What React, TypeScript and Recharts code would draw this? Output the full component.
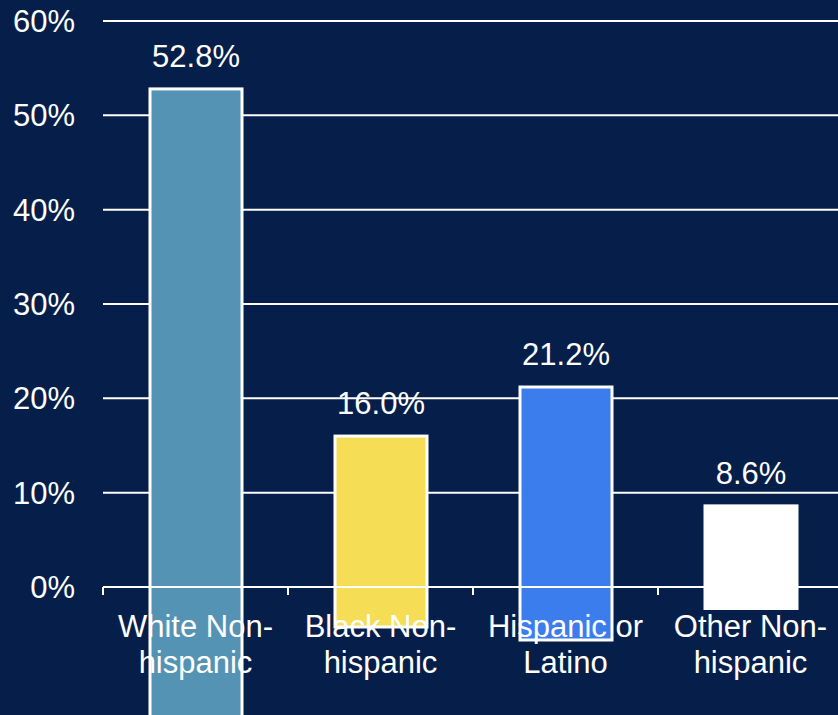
import { BarChart, Bar, XAxis, YAxis, CartesianGrid, Cell, LabelList } from 'recharts';

const CATEGORIES = ['White Non-\nhispanic', 'Black Non-\nhispanic', 'Hispanic or\nLatino', 'Other Non-\nhispanic'];
const SHARES = [52.8, 16.0, 21.2, 8.6];
const Y_TICKS = [0, 10, 20, 30, 40, 50, 60];

const COLORS = ['#5593b4', '#f5dd56', '#3b7dec', '#ffffff'];
const BG = '#061f4a';
const FONT_SIZE = 31;
// the source render draws each bar taller than its value, reaching below the baseline
const BAR_STRETCH = 1.265;

const data = CATEGORIES.map((name, i) => ({ name, value: SHARES[i] }));

const StretchedBar = (props: any) => {
  const { x, y, width, height, fill } = props;
  if (width == null || height == null) return null;
  return (
    <rect x={x} y={y} width={width} height={height * BAR_STRETCH} fill={fill} stroke="#ffffff" strokeWidth={3} />
  );
};

const CategoryTick = (props: any) => {
  const { x, y, payload } = props;
  const lines: string[] = String(payload.value).split('\n');
  const half = payload.offset ?? 0;
  return (
    <g>
      <line x1={x - half} x2={x - half} y1={y} y2={y + 8} stroke="#ffffff" strokeWidth={2} />
      <text x={x} y={y} textAnchor="middle" fill="#ffffff" fontSize={FONT_SIZE}>
        {lines.map((line, i) => (
          <tspan key={i} x={x} y={y + 50 + i * 36}>{line}</tspan>
        ))}
      </text>
    </g>
  );
};

export default function App() {
  return (
    <div
      style={{
        position: 'absolute',
        left: 0,
        top: 0,
        width: 838,
        height: 715,
        overflow: 'hidden',
        background: BG,
        fontFamily: '"Liberation Sans", Arial, sans-serif',
      }}
    >
      <BarChart width={843} height={715} data={data} margin={{ top: 21, right: 0, left: 0, bottom: 0 }}>
        <CartesianGrid vertical={false} stroke="#ffffff" strokeWidth={2} />
        <YAxis
          domain={[0, 60]}
          ticks={Y_TICKS}
          width={103}
          axisLine={false}
          tickLine={false}
          tickSize={0}
          tickMargin={28}
          tickFormatter={(v) => `${v}%`}
          tick={{ fill: '#ffffff', fontSize: FONT_SIZE }}
        />
        <Bar dataKey="value" barSize={92} shape={StretchedBar} isAnimationActive={false}>
          {data.map((entry, idx) => (
            <Cell key={entry.name} fill={COLORS[idx]} />
          ))}
          <LabelList
            dataKey="value"
            position="top"
            offset={22}
            fill="#ffffff"
            fontSize={FONT_SIZE}
            formatter={(v: any) => `${Number(v).toFixed(1)}%`}
          />
        </Bar>
        <XAxis
          dataKey="name"
          height={128}
          interval={0}
          axisLine={{ stroke: '#ffffff', strokeWidth: 2 }}
          tickLine={false}
          tickSize={0}
          tickMargin={0}
          tick={<CategoryTick />}
        />
      </BarChart>
    </div>
  );
}
